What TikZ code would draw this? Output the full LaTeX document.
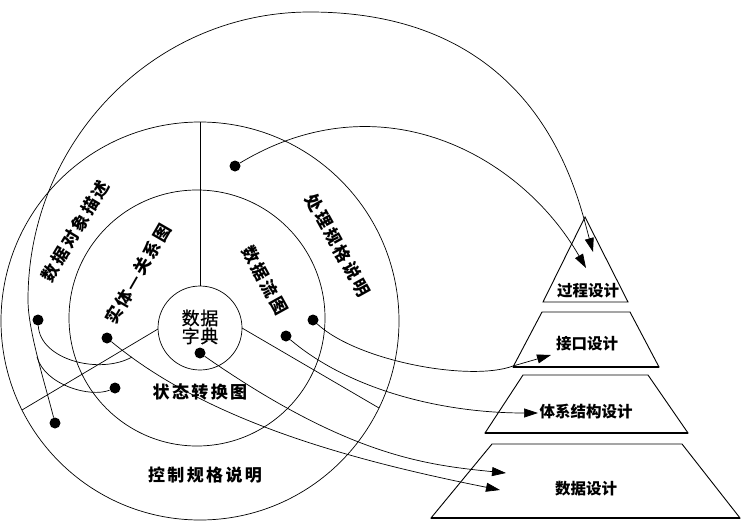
\documentclass[tikz,border=0pt]{standalone}
\usepackage{fontspec}
\newfontfamily\cjkring{Noto Sans CJK SC}[LetterSpace=14]
\newfontfamily\cjkpy{Noto Sans CJK SC}
\newfontfamily\cjkdd{Noto Sans CJK SC}[LetterSpace=4,FakeBold=0.8]
\usetikzlibrary{arrows.meta}
\begin{document}
\begin{tikzpicture}[x=1pt,y=-1pt,
  ln/.style={line width=0.7pt, black},
  conn/.style={line width=0.7pt, black},
  arr/.style={conn, -{Triangle[length=14pt,width=9pt]}},
  dot/.style={circle, fill=black, minimum size=11pt, inner sep=0pt},
  ringlabel/.style={font=\cjkring\bfseries\fontsize{17}{17}\selectfont, inner sep=0pt},
  ddlabel/.style={font=\cjkdd\fontsize{18}{18}\selectfont, inner sep=0pt, align=center},
  pylabel/.style={font=\cjkpy\bfseries\fontsize{15.5}{16}\selectfont, inner sep=0pt},
  level/.style={line width=0.9pt, black},
  levelbase/.style={line width=1.5pt, black}]
\useasboundingbox (0,0) rectangle (741,522);

% rings
\draw[ln] (200,321) circle[radius=199];
\draw[ln] (197,318) circle[radius=128];
\node[circle, draw, line width=0.7pt, minimum size=84pt, inner sep=0pt] (ddc) at (200,328) {};

% dividing lines
\coordinate (vTop) at (200,122);
\coordinate (lEnd) at (22,410);
\coordinate (rEnd) at (379,408);
\draw[ln] (vTop) -- (ddc.north);
\draw[ln] (158,329) -- (lEnd);
\draw[ln] (242,328) -- (rEnd);

% labels in rings
\node[ringlabel, rotate=59] (lDOD) at (75,231) {数据对象描述};
\node[ringlabel, rotate=60] (lERD) at (138,274) {实体—关系图};
\node[ringlabel, rotate=-61] (lPS) at (338,245) {处理规格说明};
\node[ringlabel, rotate=-61] (lDFD) at (265,280) {数据流图};
\node[ringlabel] (lSTD) at (200,392) {状态转换图};
\node[ringlabel] (lCS) at (205,475) {控制规格说明};
\node[ddlabel] (lDD) at (200,327) {数据\\字典};

% pyramid
\coordinate (pA) at (585,217);
\coordinate (pL) at (543,302);
\coordinate (pR) at (628,302);
\draw[level] (pA) -- (pR) -- (pL) -- cycle;

\coordinate (i1) at (542,312); \coordinate (i2) at (630,312);
\coordinate (i3) at (659,367); \coordinate (i4) at (513,367);
\draw[level] (i1) -- (i2) -- (i3) -- (i4) -- cycle;
\draw[levelbase] (i4) -- (i3);

\coordinate (a1) at (523,375); \coordinate (a2) at (648,375);
\coordinate (a3) at (688,433); \coordinate (a4) at (485,433);
\draw[level] (a1) -- (a2) -- (a3) -- (a4) -- cycle;
\draw[levelbase] (a4) -- (a3);

\coordinate (d1) at (492,444); \coordinate (d2) at (682,444);
\coordinate (d3) at (740,518); \coordinate (d4) at (431,518);
\draw[level] (d1) -- (d2) -- (d3) -- (d4) -- cycle;
\draw[levelbase] (d4) -- (d3);

\node[pylabel] (lPD) at (588,291) {过程设计};
\node[pylabel] (lIF) at (587,344) {接口设计};
\node[pylabel] (lAD) at (586,412) {体系结构设计};
\node[pylabel] (lDDs) at (586,489) {数据设计};

% dots
\node[dot] (dPS1) at (235,166) {};
\node[dot] (dPS2) at (313,320) {};
\node[dot] (dDFD) at (286,336) {};
\node[dot] (dDD) at (200,353) {};
\node[dot] (dERD) at (107,338) {};
\node[dot] (dDOD) at (38,320) {};
\node[dot] (dSTD) at (115,388) {};
\node[dot] (dCS) at (55,423) {};

% junctions and targets
\coordinate (jBig) at (28,300);
\coordinate (cTop) at (310,12);
\coordinate (jSTD) at (37,357);
\coordinate (jERD) at (132,357);
\coordinate (tPD1) at (593,252);
\coordinate (tPD2) at (586,268);
\coordinate (kIF) at (513,366);
\coordinate (tIF) at (551,355);
\coordinate (tAD) at (538,413);
\coordinate (tDD1) at (506,473);
\coordinate (tDD2) at (500,490);

% connectors
\draw[arr] (dCS) .. controls (44,380) and (28,330) .. (jBig)
  .. controls (28,141) and (154,12) .. (cTop)
  .. controls (540,12) and (577,194) .. (tPD1);
\draw[conn] (dSTD) .. controls (90,398) and (45,385) .. (jSTD);
\draw[conn] (dDOD) .. controls (40,360) and (100,375) .. (jERD);
\draw[arr] (dERD) .. controls (207,421) and (350,460) .. (tDD2);
\draw[arr] (dPS1) .. controls (381,78) and (521,155) .. (tPD2);
\draw[arr] (dPS2) .. controls (357,361) and (470,382) .. (kIF) -- (tIF);
\draw[arr] (dDFD) .. controls (347,388) and (438,413) .. (tAD);
\draw[arr] (dDD) .. controls (348,456) and (426,465) .. (tDD1);
\end{tikzpicture}
\end{document}
